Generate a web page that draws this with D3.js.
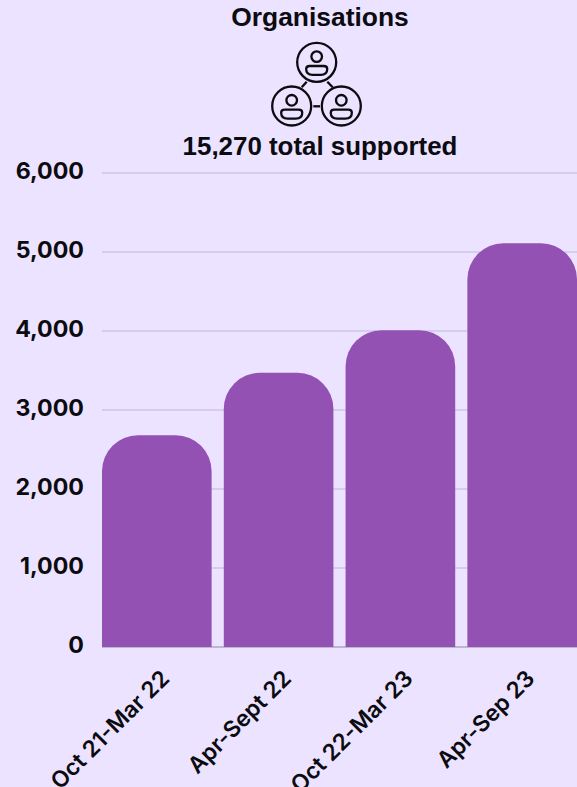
<!DOCTYPE html>
<html>
<head>
<meta charset="utf-8">
<script src="https://cdn.jsdelivr.net/npm/d3@7"></script>
<style>
  html, body { margin: 0; padding: 0; background: #ebe3ff; overflow: hidden; }
  svg { display: block; }
</style>
</head>
<body>
<svg id="chart" width="577" height="787"></svg>
<script>
const categories = ["Oct 21-Mar 22", "Apr-Sept 22", "Oct 22-Mar 23", "Apr-Sep 23"];
const supported = [2680, 3470, 4010, 5110];
const yTicks = [0, 1000, 2000, 3000, 4000, 5000, 6000];
const titleText = "Organisations";
const totalText = "15,270 total supported";

const ink = "#0b0b10";
const barColor = "#9351b3";
const gridColor = "#cfc7e2";
const svg = d3.select("#chart");

const x = d3.scaleBand().domain(categories).range([102, 577]).paddingInner(0.1).paddingOuter(0);
const y = d3.scaleLinear().domain([0, 6000]).range([647, 173]);

// Horizontal gridlines sit behind the bars
svg.append("g").selectAll("line").data(yTicks.slice(1)).join("line")
  .attr("x1", 102).attr("x2", 577)
  .attr("y1", d => y(d)).attr("y2", d => y(d))
  .attr("stroke", gridColor).attr("stroke-width", 1.4);

// Baseline
svg.append("line").attr("x1", 102).attr("x2", 577)
  .attr("y1", y(0)).attr("y2", y(0))
  .attr("stroke", "#8f8a9c").attr("stroke-width", 1);

// Bars with large rounded top corners
const radius = 36;
svg.append("g").selectAll("path").data(categories).join("path")
  .attr("fill", barColor)
  .attr("d", (c, i) => {
    const x0 = x(c), x1 = x0 + x.bandwidth(), top = y(supported[i]), base = y(0);
    const p = d3.path();
    p.moveTo(x0, base);
    p.lineTo(x0, top + radius);
    p.arcTo(x0, top, x0 + radius, top, radius);
    p.lineTo(x1 - radius, top);
    p.arcTo(x1, top, x1, top + radius, radius);
    p.lineTo(x1, base);
    p.closePath();
    return p.toString();
  });

// Value axis labels
svg.append("g").selectAll("text").data(yTicks).join("text")
  .attr("x", 84).attr("y", d => y(d) - 2.5)
  .attr("dy", "0.36em")
  .attr("text-anchor", "end")
  .attr("font-family", "Inter, sans-serif").attr("font-weight", 700).attr("font-size", 23.2)
  .attr("fill", ink)
  .text(d3.format(","));

// Rotated category labels, running off the bottom edge as the long names do
svg.append("g").selectAll("text").data(categories).join("text")
  .attr("transform", c => `translate(${x(c) + x.bandwidth() / 2 + 1},${667}) rotate(-45)`)
  .attr("text-anchor", "end")
  .attr("dy", "0.8em")
  .attr("font-family", "Inter, sans-serif").attr("font-weight", 600).attr("font-size", 22.8)
  .attr("fill", ink)
  .text(c => c);

// Heading and total
svg.append("text").attr("x", 320).attr("y", 26).attr("text-anchor", "middle")
  .attr("font-family", "'Liberation Sans', sans-serif").attr("font-weight", 700).attr("font-size", 26.4)
  .attr("fill", ink).text(titleText);
svg.append("text").attr("x", 320).attr("y", 155).attr("text-anchor", "middle")
  .attr("font-family", "'Liberation Sans', sans-serif").attr("font-weight", 700).attr("font-size", 25.9)
  .attr("fill", ink).text(totalText);

// Network icon: three person badges joined by short links
const icon = svg.append("g").attr("fill", "none").attr("stroke", ink).attr("stroke-width", 2.3);
const badges = [[316.7, 62.3], [291.7, 106], [341.3, 106]];
badges.forEach(([cx, cy]) => {
  const g = icon.append("g").attr("transform", `translate(${cx},${cy})`);
  g.append("circle").attr("r", 19.5);
  g.append("circle").attr("cy", -5.7).attr("r", 5.3);
  // Shoulders: flat on top, fuller underneath
  g.append("path").attr("d", "M-10.5,6.5 Q-10.5,3.7 -7,3.7 H7 Q10.5,3.7 10.5,6.5 V7 Q10.5,12.6 4,12.6 H-4 Q-10.5,12.6 -10.5,7 Z");
});
[[306.7, 81.7, 301.7, 87.3], [327.3, 81.7, 332.7, 87.3], [313.3, 106.3, 320, 106.3]].forEach(([a, b, c, d]) => {
  icon.append("line").attr("x1", a).attr("y1", b).attr("x2", c).attr("y2", d);
});
</script>
</body>
</html>
